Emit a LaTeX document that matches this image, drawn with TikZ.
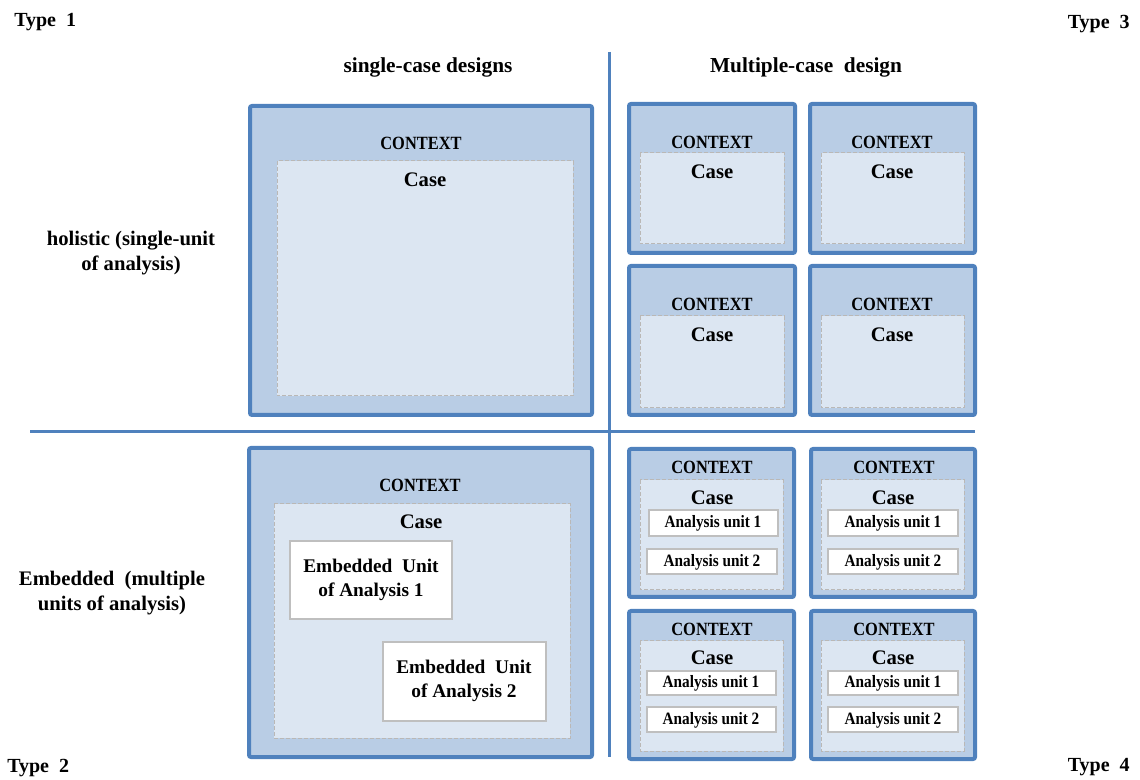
\documentclass[tikz,border=0pt]{standalone}
\usepackage{fontspec}
\setmainfont{Liberation Serif}
\newfontfamily\narrowserif{Liberation Serif}[FakeStretch=0.88]
\usepackage{xcolor}

\definecolor{ctxBlue}{RGB}{79,129,189}
\definecolor{ctxFill}{RGB}{185,205,229}
\definecolor{caseFill}{RGB}{220,230,242}
\definecolor{caseLine}{RGB}{186,184,182}
\definecolor{unitLine}{RGB}{191,191,191}

\tikzset{
  ctxbox/.style={draw=ctxBlue, line width=3pt, fill=ctxFill, rounded corners=1.5pt},
  casebox/.style={draw=caseLine, line width=0.75pt, fill=caseFill, dash pattern=on 3pt off 1.5pt},
  unitbox/.style={draw=unitLine, line width=1.1pt, fill=white},
  divider/.style={draw=ctxBlue, line width=2.25pt},
  txt/.style={inner sep=0.75pt, align=center, text=black},
  ctxtxt/.style={txt, font=\narrowserif\bfseries\fontsize{14}{17}\selectfont},
  casetxt/.style={txt, font=\bfseries\fontsize{15.5}{18}\selectfont},
  unittxt/.style={txt, font=\narrowserif\bfseries\fontsize{13}{15}\selectfont},
  embtxt/.style={txt, font=\bfseries\fontsize{14.5}{17.8}\selectfont},
  headtxt/.style={txt, font=\bfseries\fontsize{16}{19}\selectfont},
  sidetxt/.style={txt, font=\bfseries\fontsize{15.5}{18.5}\selectfont},
  typetxt/.style={txt, font=\bfseries\fontsize{15}{17}\selectfont},
}

\begin{document}
\begin{tikzpicture}[x=0.75pt,y=0.75pt,yscale=-1,xscale=1]
\useasboundingbox (0,0) rectangle (1140,780);

%Straight Lines: quadrant dividers
\draw [divider] (609,52) -- (609,757) ;
\draw [divider] (30,432) -- (975,432) ;

%Shape: Rectangle -- single case, holistic
\draw [ctxbox] (250,106) rectangle (592,415) ;
\draw [casebox] (277,161) rectangle (573,396) ;
% Text Node
\node [ctxtxt] (ctxA) at (421,143) {CONTEXT};
% Text Node
\node [casetxt] (caseA) at (425,180) {Case};

%Shape: Rectangle -- single case, embedded
\draw [ctxbox] (249,448) rectangle (592,757) ;
\draw [casebox] (274,504) rectangle (570,738) ;
\draw [unitbox] (290,541) rectangle (452,619) ;
\draw [unitbox] (383,642) rectangle (546,721) ;
% Text Node
\node [ctxtxt] (ctxB) at (420,485) {CONTEXT};
% Text Node
\node [casetxt] (caseB) at (421,522) {Case};
% Text Node
\node [embtxt] (embOne) at (371,580) {Embedded~~Unit\\of Analysis 1};
% Text Node
\node [embtxt] (embTwo) at (464,681) {Embedded~~Unit\\of Analysis 2};

%Shape: Rectangle -- multiple case, holistic
\draw [ctxbox] (629,104) rectangle (795,253) ;
\draw [casebox] (640,153) rectangle (784,244) ;
\draw [ctxbox] (810,104) rectangle (975,253) ;
\draw [casebox] (821,153) rectangle (964,244) ;
\draw [ctxbox] (629,266) rectangle (795,415) ;
\draw [casebox] (640,316) rectangle (784,408) ;
\draw [ctxbox] (810,266) rectangle (975,415) ;
\draw [casebox] (821,316) rectangle (964,408) ;
% Text Node
\node [ctxtxt] (ctxC) at (712,142) {CONTEXT};
\node [casetxt] (caseC) at (712,172) {Case};
% Text Node
\node [ctxtxt] (ctxD) at (892,142) {CONTEXT};
\node [casetxt] (caseD) at (892,172) {Case};
% Text Node
\node [ctxtxt] (ctxE) at (712,304) {CONTEXT};
\node [casetxt] (caseE) at (712,335) {Case};
% Text Node
\node [ctxtxt] (ctxF) at (892,304) {CONTEXT};
\node [casetxt] (caseF) at (892,335) {Case};

%Shape: Rectangle -- multiple case, embedded
\draw [ctxbox] (629,449) rectangle (794,597) ;
\draw [casebox] (640,480) rectangle (783,590) ;
\draw [unitbox] (649,510) rectangle (778,536) ;
\draw [unitbox] (647,549) rectangle (777,574) ;
\draw [ctxbox] (811,449) rectangle (975,597) ;
\draw [casebox] (821,480) rectangle (964,590) ;
\draw [unitbox] (828,510) rectangle (958,536) ;
\draw [unitbox] (828,549) rectangle (958,574) ;
\draw [ctxbox] (629,611) rectangle (794,759) ;
\draw [casebox] (640,641) rectangle (783,751) ;
\draw [unitbox] (647,671) rectangle (776,695) ;
\draw [unitbox] (647,707) rectangle (776,732) ;
\draw [ctxbox] (811,611) rectangle (975,759) ;
\draw [casebox] (821,641) rectangle (964,751) ;
\draw [unitbox] (828,671) rectangle (958,695) ;
\draw [unitbox] (828,707) rectangle (958,732) ;
% Text Node
\node [ctxtxt] (ctxG) at (712,467) {CONTEXT};
\node [casetxt] (caseG) at (712,498) {Case};
\node [unittxt] (auG1) at (713,523) {Analysis unit 1};
\node [unittxt] (auG2) at (712,562) {Analysis unit 2};
% Text Node
\node [ctxtxt] (ctxH) at (894,467) {CONTEXT};
\node [casetxt] (caseH) at (893,498) {Case};
\node [unittxt] (auH1) at (893,523) {Analysis unit 1};
\node [unittxt] (auH2) at (893,562) {Analysis unit 2};
% Text Node
\node [ctxtxt] (ctxI) at (712,629) {CONTEXT};
\node [casetxt] (caseI) at (712,658) {Case};
\node [unittxt] (auI1) at (711,683) {Analysis unit 1};
\node [unittxt] (auI2) at (711,720) {Analysis unit 2};
% Text Node
\node [ctxtxt] (ctxJ) at (894,629) {CONTEXT};
\node [casetxt] (caseJ) at (893,658) {Case};
\node [unittxt] (auJ1) at (893,683) {Analysis unit 1};
\node [unittxt] (auJ2) at (893,720) {Analysis unit 2};

% Column and row headings
\node [headtxt] (hdSingle) at (428,67) {single-case designs};
\node [headtxt] (hdMulti) at (806,67) {Multiple-case~~design};
\node [sidetxt] (sdHolistic) at (131,253) {holistic (single-unit\\of analysis)};
\node [sidetxt] (sdEmbedded) at (112,593) {Embedded~~(multiple\\units of analysis)};

% Corner labels
\node [typetxt, anchor=west] (typeOne) at (13,22) {Type~~1};
\node [typetxt, anchor=east] (typeThree) at (1131,24) {Type~~3};
\node [typetxt, anchor=west] (typeTwo) at (6,768) {Type~~2};
\node [typetxt, anchor=east] (typeFour) at (1131,767) {Type~~4};

\end{tikzpicture}
\end{document}
